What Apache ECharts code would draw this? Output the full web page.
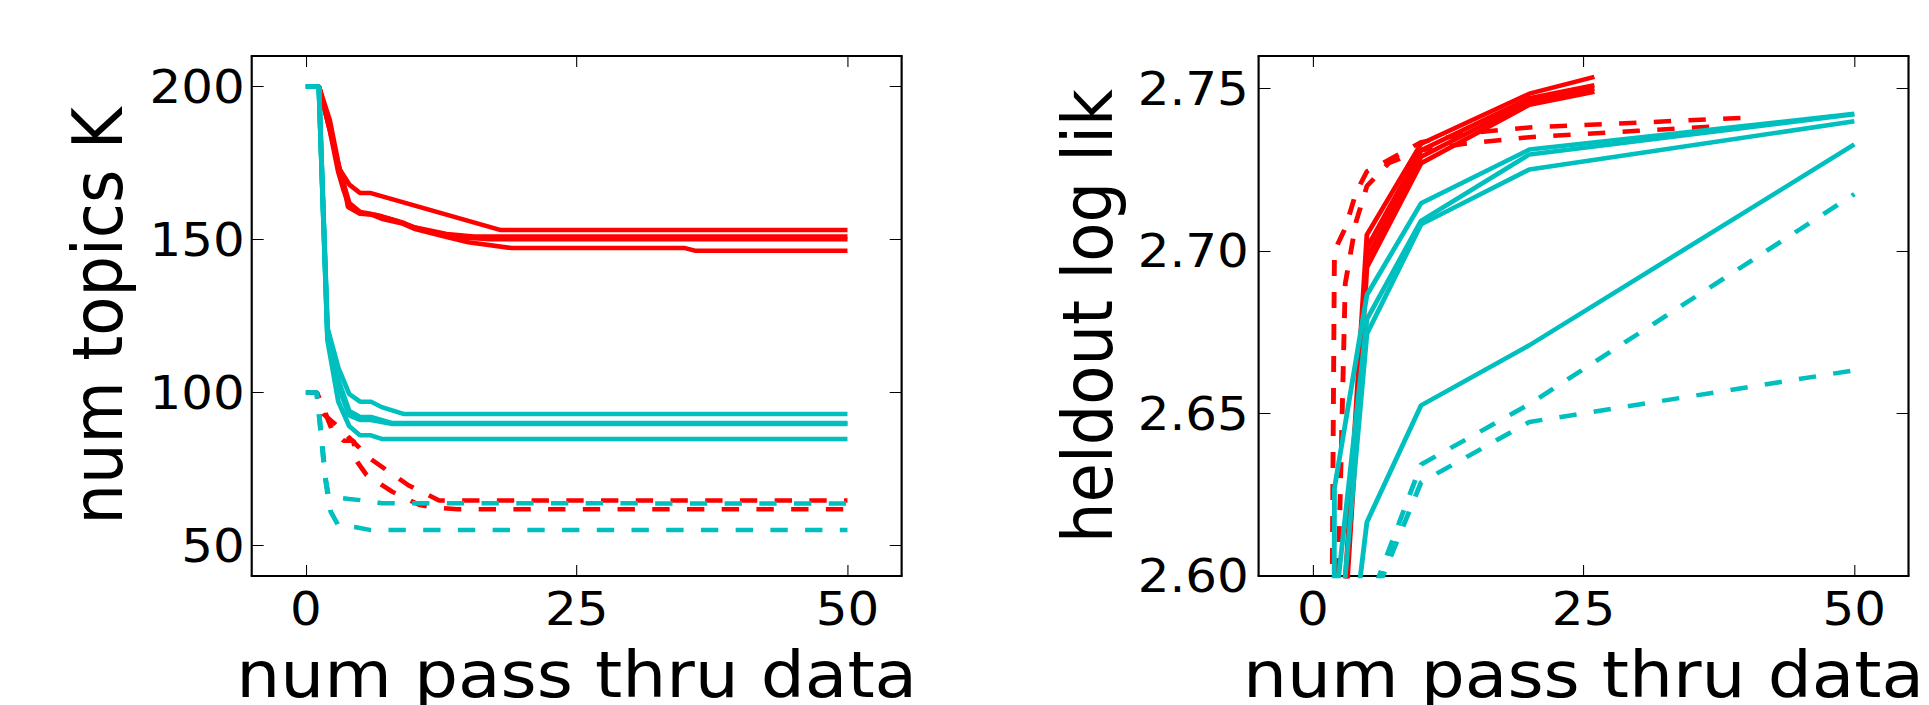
<!DOCTYPE html>
<html>
<head>
<meta charset="utf-8">
<script src="https://cdn.jsdelivr.net/npm/echarts@6/dist/echarts.min.js"></script>
<style>
  html, body { margin: 0; padding: 0; background: #fff; overflow: hidden; }
  /* the reference figure is a little wider than tall text would suggest, so stretch horizontally */
  #chart { width: 1778px; height: 705px; transform: scaleX(1.085); transform-origin: 0 0; }
</style>
</head>
<body>
<div id="chart"></div>
<script>
// tick labels
const passTicks = [0, 25, 50]
const topicTicks = [50, 100, 150, 200]
const likTicks = [2.60, 2.65, 2.70, 2.75]

// left panel: num topics K per pass, each run is a list of [pass, K]
const topicsRedSolid = [
  [[0,200],[1.2,200],[2.2,189],[3.1,173],[4,168],[5,165.2],[6,165.2],[18,153.1],[50,153.1]],
  [[0,200],[1.2,200],[2.2,187],[3,174],[3.5,168],[4,162],[5,159],[6,158.4],[7,157.6],[9,155.5],[10,154],[13,151.8],[15.5,151],[50,151]],
  [[0,200],[1.2,200],[2.2,186],[3,172],[3.5,166],[4,161],[5,158.6],[6.5,158],[8,156.5],[10,154],[13,151],[17,150.1],[50,150.1]],
  [[0,200],[1.2,200],[2.2,186],[2.9,176],[3.5,168],[3.9,160.6],[5,158.4],[6,158.2],[7,156.8],[9,155.1],[10,153.5],[13,150.8],[15,149.1],[19,147.2],[35,147.2],[36,146.3],[50,146.3]]
]
const topicsRedDashed = [
  [[0,100],[1,100],[1.6,93],[2.9,89],[4.3,84.2],[6,78.2],[9.5,69.6],[12.3,64.7],[50,64.7]],
  [[0,100],[1,100],[1.5,96],[2.5,87],[3.5,84.2],[4.4,84.2],[4.7,77.5],[5.6,73],[8,67.5],[10.5,63.2],[12,62.3],[14,61.8],[50,61.8]]
]
const topicsCyanSolid = [
  [[0,200],[1.2,200],[2,121],[3,108],[4,99.5],[5,97],[6,97],[7,95.2],[9,93],[50,93]],
  [[0,200],[1.2,200],[2,119],[3,104],[4,94],[5,92],[6,92],[8,90],[50,90]],
  [[0,200],[1.2,200],[2,118],[3,102],[4,92.5],[5,91],[6,91],[8,89.7],[50,89.7]],
  [[0,200],[1.2,200],[2,117],[3,97],[4,89],[5,86],[6,86],[7,84.8],[50,84.8]]
]
const topicsCyanDashed = [
  [[0,100],[1,100],[1.3,90],[1.8,72],[2.1,66],[4,65.2],[5,64.8],[7,63.8],[50,63.7]],
  [[0,100],[1,100],[1.3,90],[1.8,72],[2,67],[2.3,61],[3,56.5],[4.5,56],[6,55],[50,55]]
]

// right panel: heldout log lik per pass
const likRedSolid = [
  [[2,2.545],[5,2.705],[10,2.733],[20,2.7484],[26,2.7536]],
  [[2,2.540],[5,2.701],[10,2.731],[20,2.747],[26,2.751]],
  [[2,2.538],[5,2.698],[10,2.729],[20,2.746],[26,2.750]],
  [[2,2.535],[5,2.695],[10,2.727],[20,2.745],[26,2.749]]
]
const likRedDashed = [
  [[1,2.2],[2,2.700],[3,2.707],[4,2.718],[5,2.7245],[7,2.728],[10,2.7335],[15,2.7365],[20,2.738],[30,2.7395],[40,2.741]],
  [[1,2.0],[2,2.55],[3,2.69],[4,2.709],[5,2.720],[7,2.727],[10,2.731],[14,2.733],[20,2.735],[30,2.737],[38,2.7385]]
]
const likCyanSolid = [
  [[1,1.0],[2,2.627],[5,2.6865],[10,2.7147],[20,2.7312],[50,2.7422]],
  [[2,2.588],[5,2.679],[10,2.7093],[20,2.7297],[50,2.7421]],
  [[2,2.563],[5,2.6745],[10,2.7082],[20,2.7251],[50,2.7399]],
  [[2,2.5336],[5,2.6166],[10,2.6525],[20,2.671],[50,2.7328]]
]
const likCyanDashed = [
  [[2,2.45],[5,2.59],[10,2.6343],[20,2.6529],[50,2.7175]],
  [[2,2.45],[5,2.588],[10,2.6288],[20,2.6474],[50,2.6633]]
]

const RED = '#ff0000'
const CYAN = '#00bfbf'
const FONT = 'DejaVu Sans'

function runs(list, color, dashed, axis) {
  return list.map(d => ({
    type: 'line',
    xAxisIndex: axis,
    yAxisIndex: axis,
    data: d,
    symbol: 'none',
    silent: true,
    clip: true,
    lineStyle: { color: color, width: 4.5, type: dashed ? [16, 16] : 'solid' }
  }))
}

function xAx(grid, pos, name) {
  return {
    type: 'value', gridIndex: grid, position: pos, min: -5, max: 55,
    name: name, nameLocation: 'middle', nameGap: 67,
    nameTextStyle: { fontSize: 64, fontFamily: FONT, color: '#000' },
    axisLine: { show: true, onZero: false, lineStyle: { color: '#000', width: 2 } },
    axisTick: { show: true, inside: true, length: 11, customValues: passTicks, lineStyle: { color: '#000', width: 1 } },
    axisLabel: { show: pos === 'bottom', customValues: passTicks, margin: 10, fontSize: 46, fontFamily: FONT, color: '#000' },
    splitLine: { show: false }
  }
}

function yAx(grid, pos, min, max, ticks, name, gap, margin, fmt) {
  return {
    type: 'value', gridIndex: grid, position: pos, min: min, max: max,
    name: name, nameLocation: 'middle', nameGap: gap,
    nameTextStyle: { fontSize: 64, fontFamily: FONT, color: '#000' },
    axisLine: { show: true, onZero: false, lineStyle: { color: '#000', width: 2 } },
    axisTick: { show: true, inside: true, length: 11, customValues: ticks, lineStyle: { color: '#000', width: 1 } },
    axisLabel: { show: pos === 'left', customValues: ticks, margin: margin, fontSize: 46, fontFamily: FONT, color: '#000', formatter: fmt },
    splitLine: { show: false }
  }
}

let myChart = echarts.init(document.getElementById('chart'), null, { renderer: 'svg' })
myChart.setOption({
  animation: false,
  backgroundColor: '#fff',
  grid: [
    { left: 232, top: 56, width: 599, height: 520, outerBoundsMode: 'none', containLabel: false },
    { left: 1160, top: 56, width: 599, height: 520, outerBoundsMode: 'none', containLabel: false }
  ],
  xAxis: [
    xAx(0, 'bottom', 'num pass thru data'),
    xAx(1, 'bottom', 'num pass thru data'),
    xAx(0, 'top', ''),
    xAx(1, 'top', '')
  ],
  yAxis: [
    yAx(0, 'left', 40, 210, topicTicks, 'num topics K', 110, 6.5, v => String(v)),
    yAx(1, 'left', 2.60, 2.76, likTicks, 'heldout log lik', 125, 9, v => v.toFixed(2)),
    yAx(0, 'right', 40, 210, topicTicks, '', 0, 6, null),
    yAx(1, 'right', 2.60, 2.76, likTicks, '', 0, 6, null)
  ],
  series: [].concat(
    runs(topicsRedSolid, RED, false, 0),
    runs(topicsRedDashed, RED, true, 0),
    runs(topicsCyanSolid, CYAN, false, 0),
    runs(topicsCyanDashed, CYAN, true, 0),
    runs(likRedSolid, RED, false, 1),
    runs(likRedDashed, RED, true, 1),
    runs(likCyanSolid, CYAN, false, 1),
    runs(likCyanDashed, CYAN, true, 1)
  )
})
</script>
</body>
</html>
